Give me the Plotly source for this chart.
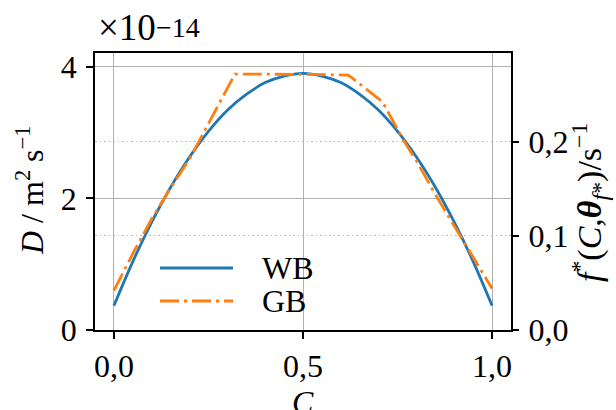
import plotly.graph_objects as go

# ---- data (D in units of 1e-14 m^2/s) ----
wb_c = [0.00, 0.05, 0.10, 0.15, 0.20, 0.25, 0.30, 0.35, 0.40, 0.45, 0.50,
        0.55, 0.60, 0.65, 0.70, 0.75, 0.80, 0.85, 0.90, 0.95, 1.00]
wb_d = [0.37, 1.04, 1.64, 2.17, 2.63, 3.02, 3.34, 3.58, 3.76, 3.86, 3.90,
        3.86, 3.76, 3.58, 3.34, 3.02, 2.63, 2.17, 1.64, 1.04, 0.37]

gb_c = [0.00, 0.05, 0.10, 0.15, 0.20, 0.23, 0.32, 0.50, 0.62, 0.71, 0.765,
        0.80, 0.85, 0.90, 0.95, 1.00]
gb_d = [0.60, 1.16, 1.69, 2.16, 2.60, 2.92, 3.89, 3.885, 3.875, 3.47, 2.89,
        2.57, 2.06, 1.58, 1.10, 0.63]

x_ticks = [0.0, 0.5, 1.0]
x_ticktext = ["0,0", "0,5", "1,0"]
y_ticks = [0, 2, 4]
y_ticktext = ["0", "2", "4"]
y2_ticks = [0.0, 0.1, 0.2]
y2_ticktext = ["0,0", "0,1", "0,2"]

series_names = ["WB", "GB"]
BLUE = "#1f77b4"
ORANGE = "#ff7f0e"
FONT = "Liberation Serif"
FS = 32
DASHDOT = "19px,5px,3px,5px"

fig = go.Figure()
fig.add_trace(go.Scatter(x=wb_c, y=wb_d, mode="lines", name=series_names[0],
                         line=dict(color=BLUE, width=2.8, shape="spline"),
                         showlegend=False))
fig.add_trace(go.Scatter(x=gb_c, y=gb_d, mode="lines", name=series_names[1],
                         line=dict(color=ORANGE, width=2.8, dash=DASHDOT),
                         showlegend=False))
# carrier trace for the right-hand axis
fig.add_trace(go.Scatter(x=[0.0], y=[0.0], yaxis="y2", mode="lines",
                         line=dict(width=0), showlegend=False, hoverinfo="skip"))

L, R, T, B = 95, 105, 53, 80
W, H = 616, 410
pw, ph = W - L - R, H - T - B


def px(xp):
    return (xp - L) / pw


def py(yp):
    return (H - B - yp) / ph


axis_common = dict(
    ticks="outside", ticklen=7, tickwidth=1.6, tickcolor="black",
    showline=True, linecolor="black", linewidth=1.8,
    zeroline=False, tickfont=dict(family=FONT, size=FS, color="black"),
)

fig.update_layout(
    width=W, height=H,
    margin=dict(l=L, r=R, t=T, b=B, pad=0),
    paper_bgcolor="white", plot_bgcolor="white",
    font=dict(family=FONT, size=FS, color="black"),
    xaxis=dict(range=[-0.05, 1.05], tickvals=x_ticks, ticktext=x_ticktext,
               showgrid=True, gridcolor="#b0b0b0", gridwidth=1.4, mirror=True,
               **axis_common),
    yaxis=dict(range=[0, 4.21], tickvals=y_ticks, ticktext=y_ticktext,
               showgrid=True, gridcolor="#b0b0b0", gridwidth=1.4, mirror=True,
               ticklabelstandoff=3, **axis_common),
    yaxis2=dict(range=[0, 0.294], tickvals=y2_ticks, ticktext=y2_ticktext,
                overlaying="y", side="right", showgrid=True, gridcolor="#b8b8b8",
                gridwidth=1.2, griddash="1.5px,3px", ticks="outside", ticklen=7,
                tickwidth=1.6, tickcolor="black", showline=False, zeroline=False,
                ticklabelstandoff=3,
                tickfont=dict(family=FONT, size=FS, color="black")),
)

ann = []
# offset multiplier  ×10^-14
ann.append(dict(text="×10", xref="paper", yref="paper",
                x=px(96), y=py(50), xanchor="left", yanchor="bottom",
                showarrow=False, font=dict(family=FONT, size=37)))
ann.append(dict(text="−14", xref="paper", yref="paper",
                x=px(154), y=py(27), xanchor="left", yanchor="middle",
                showarrow=False, font=dict(family=FONT, size=28)))
ann.append(dict(text="<i>D</i> / m<sup>2</sup> s<sup>−1</sup>",
                xref="paper", yref="paper",
                x=px(30), y=py(191), xanchor="center", yanchor="middle",
                textangle=-90, showarrow=False, font=dict(family=FONT, size=FS)))
ann.append(dict(text="<i>f</i><sup>*</sup>(<i>C</i>,<b><i>θ</i></b><sub><i>f</i>*</sub>)/s<sup>−1</sup>",
                xref="paper", yref="paper",
                x=px(590), y=py(203), xanchor="center", yanchor="middle",
                textangle=-90, showarrow=False, font=dict(family=FONT, size=34)))
ann.append(dict(text="<i>C</i>", xref="paper", yref="paper",
                x=0.5, y=py(382), xanchor="center", yanchor="top",
                showarrow=False, font=dict(family=FONT, size=FS)))

# legend (no frame)
leg_rows = [(268, BLUE, "solid"), (301, ORANGE, DASHDOT)]
shapes = []
for (yy, col, dash), name in zip(leg_rows, series_names):
    shapes.append(dict(type="line", xref="paper", yref="paper",
                       x0=px(160), x1=px(233), y0=py(yy), y1=py(yy),
                       line=dict(color=col, width=2.8, dash=dash)))
    ann.append(dict(text=name, xref="paper", yref="paper",
                    x=px(260), y=py(yy), xanchor="left", yanchor="middle",
                    showarrow=False, font=dict(family=FONT, size=FS)))

fig.update_layout(annotations=ann, shapes=shapes)

fig.write_html("out.html")
